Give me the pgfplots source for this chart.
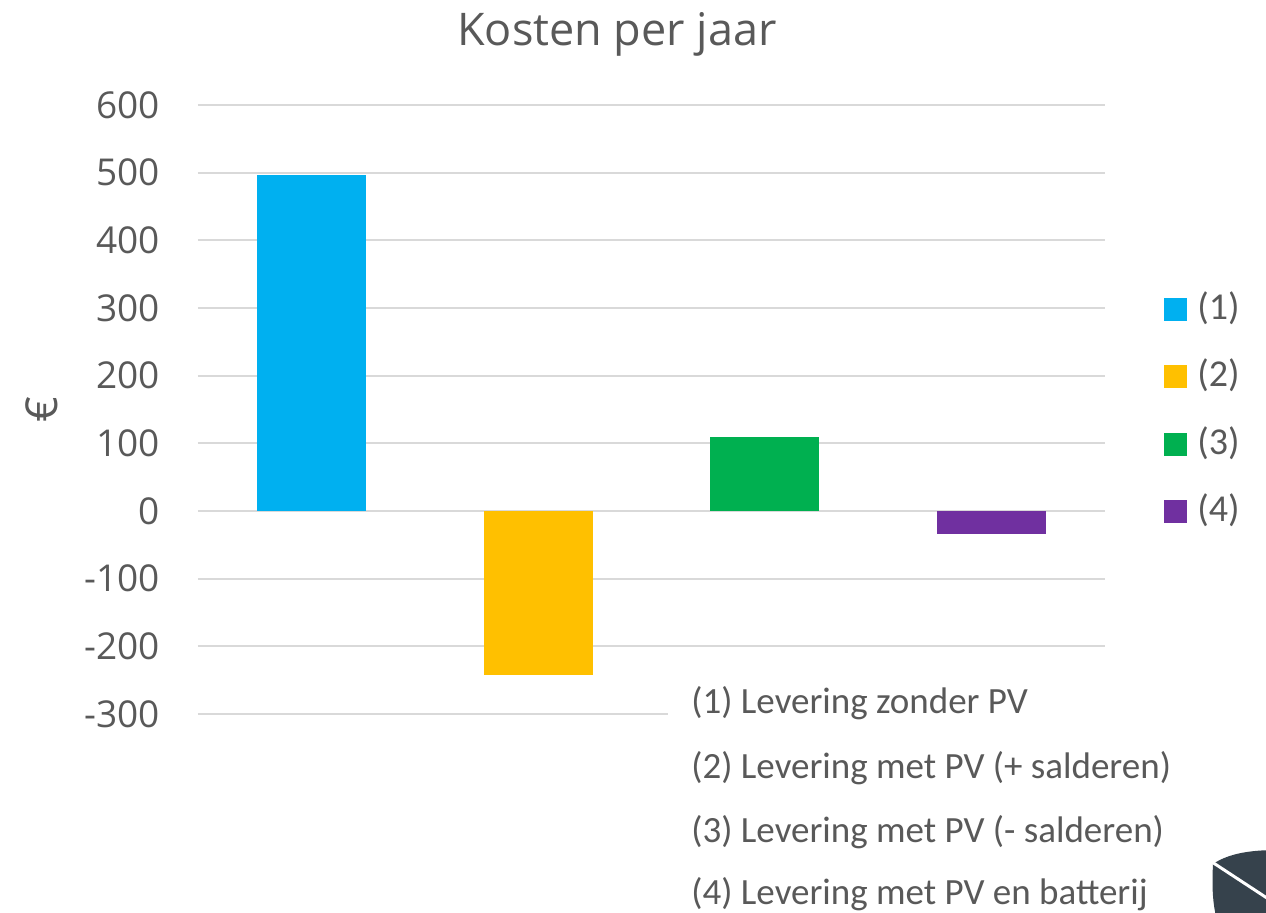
\documentclass[border=0pt]{standalone}
\usepackage{fontspec}
\setmainfont{Carlito}
\newfontfamily\osans{Open Sans}
\usepackage{pgfplots}
\pgfplotsset{compat=1.18}
\definecolor{txt}{HTML}{595959}
\definecolor{c1}{HTML}{00B0F0}
\definecolor{c2}{HTML}{FFC000}
\definecolor{c3}{HTML}{00B050}
\definecolor{c4}{HTML}{7030A0}
\definecolor{gridc}{HTML}{D9D9D9}
\definecolor{logo}{HTML}{36424C}
\begin{document}
\begin{tikzpicture}
\path[use as bounding box] (-99pt,-99pt) rectangle (534pt,357pt);
\begin{axis}[
  at={(0pt,0pt)}, anchor=south west,
  scale only axis, width=453.5pt, height=304.5pt,
  xmin=-0.5, xmax=3.5, ymin=-300, ymax=600,
  ytick={-300,-200,...,600},
  xtick=\empty,
  axis line style={draw=none},
  major tick length=0pt,
  ymajorgrids, grid style={draw=gridc, line width=1pt},
  /pgf/number format/assume math mode=true,
  yticklabel style={font=\osans\fontsize{18.5}{22}\selectfont, text=txt, xshift=-15.5pt},
  ybar, bar width=54.5pt, bar shift=0pt,
  legend style={draw=none, fill=none, at={(1.065,0.695)}, anchor=north west,
    font=\fontsize{19}{22}\selectfont, text=txt, inner sep=0pt,
    nodes={inner sep=0pt, text height=14pt, text depth=4pt},
    row sep=15.8pt,
    /tikz/every odd column/.append style={column sep=5pt}},
  legend image code/.code={\fill[#1] (0pt,-5.75pt) rectangle (11.5pt,5.75pt);},
]
\addplot[fill=c1, draw=none] coordinates {(0,497)};
\addplot[fill=c2, draw=none] coordinates {(1,-243)};
\addplot[fill=c3, draw=none] coordinates {(2,109)};
\addplot[fill=c4, draw=none] coordinates {(3,-34)};
\legend{(1),(2),(3),(4)}
\end{axis}
\node[font=\osans\fontsize{22.5}{26}\selectfont, text=txt] at (209.5pt,340pt) {Kosten per jaar};
\node[font=\osans\fontsize{22}{26}\selectfont, text=txt, rotate=90] at (-78pt,152pt) {€};
\fill[white] (236pt,-2pt) rectangle (456pt,2pt);
\begin{scope}[every node/.style={anchor=west, fill=white, inner xsep=11.5pt, inner ysep=1pt, font=\fontsize{18.5}{22}\selectfont, text=txt}]
\node at (235pt,5.5pt) {(1) Levering zonder PV};
\node at (235pt,-27pt) {(2) Levering met PV (+ salderen)};
\node at (235pt,-59pt) {(3) Levering met PV (- salderen)};
\node at (235pt,-90pt) {(4) Levering met PV en batterij};
\end{scope}
\begin{scope}
\clip (-99pt,-99pt) rectangle (534pt,357pt);
\fill[logo] (507.5pt,-75pt) .. controls (515pt,-70pt) and (525pt,-68pt) .. (540pt,-68pt) -- (540pt,-105pt) -- (510pt,-105pt) .. controls (507pt,-95pt) and (507pt,-85pt) .. cycle;
\draw[white, line width=1.5pt] (507pt,-74pt) -- (536pt,-93pt);
\end{scope}
\end{tikzpicture}
\end{document}
